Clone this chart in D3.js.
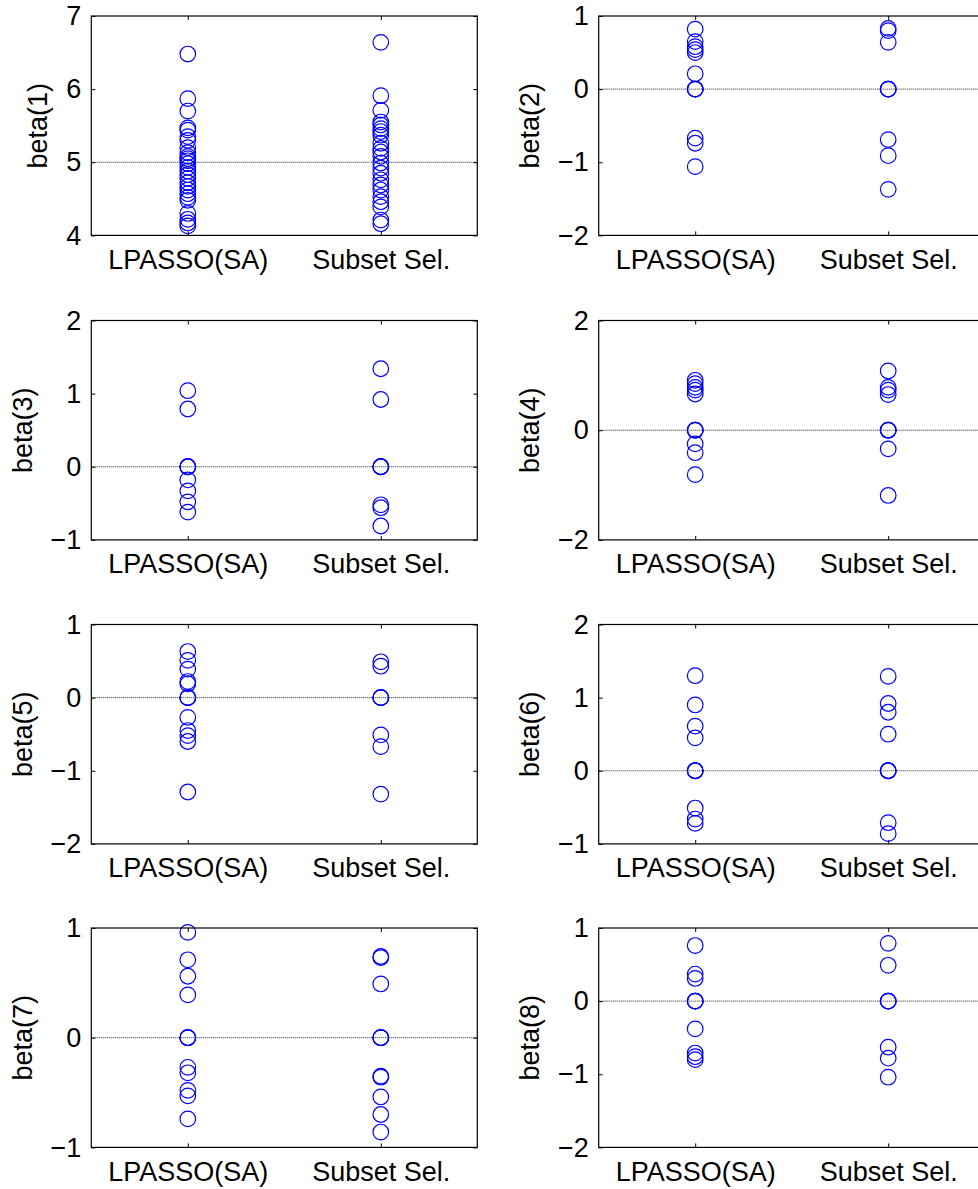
<!DOCTYPE html>
<html>
<head>
<meta charset="utf-8">
<script src="https://cdn.jsdelivr.net/npm/d3@7"></script>
<style>
  body { margin: 0; background: #fff; }
  text { font-family: "Liberation Sans", Arial, sans-serif; }
</style>
</head>
<body>
<script>
    const width = 978;
    const height = 1189;

    const categories = ["LPASSO(SA)", "Subset Sel."];
    const labels = ["beta(1)", "beta(2)", "beta(3)", "beta(4)", "beta(5)", "beta(6)", "beta(7)", "beta(8)"];
    const trueValues = [5, 0, 0, 0, 0, 0, 0, 0];
    const yDomains = [[4, 7], [-2, 1], [-1, 2], [-2, 2], [-2, 1], [-1, 2], [-1, 1], [-2, 1]];
    const yTicks = [[4, 5, 6, 7], [-2, -1, 0, 1], [-1, 0, 1, 2], [-2, 0, 2], [-2, -1, 0, 1], [-1, 0, 1, 2], [-1, 0, 1], [-2, -1, 0, 1]];

    // estimates for each run, per method
    const lpasso = [
        [6.48, 5.87, 5.70, 5.47, 5.44, 5.35, 5.30, 5.20, 5.13, 5.08, 5.05, 5.02, 4.98, 4.93, 4.88, 4.83, 4.78, 4.72, 4.67, 4.62, 4.57, 4.52, 4.48, 4.30, 4.22, 4.17, 4.13],
        [0.82, 0.65, 0.58, 0.54, 0.50, 0.21, 0, 0, 0, -0.67, -0.74, -1.06],
        [1.04, 0.79, 0, 0, 0, -0.18, -0.33, -0.48, -0.62],
        [0.91, 0.85, 0.78, 0.73, 0.66, 0, 0, 0, -0.25, -0.41, -0.81],
        [0.63, 0.51, 0.39, 0.22, 0.19, 0, 0, 0, -0.27, -0.45, -0.52, -0.60, -1.29],
        [1.30, 0.90, 0.61, 0.45, 0, 0, 0, -0.51, -0.66, -0.72],
        [0.96, 0.71, 0.56, 0.39, 0, 0, 0, -0.27, -0.32, -0.48, -0.53, -0.74],
        [0.76, 0.37, 0.31, 0, 0, 0, -0.38, -0.71, -0.76, -0.80]
    ];
    const subset = [
        [6.64, 5.91, 5.71, 5.55, 5.51, 5.46, 5.42, 5.37, 5.26, 5.19, 5.14, 5.08, 4.99, 4.92, 4.85, 4.76, 4.69, 4.62, 4.53, 4.46, 4.39, 4.21, 4.16],
        [0.83, 0.80, 0.64, 0, 0, 0, -0.69, -0.91, -1.37],
        [1.34, 0.92, 0, 0, 0, -0.52, -0.56, -0.81],
        [1.08, 0.78, 0.73, 0.65, 0, 0, 0, -0.34, -1.19],
        [0.49, 0.43, 0, 0, 0, -0.51, -0.67, -1.32],
        [1.29, 0.92, 0.80, 0.50, 0, 0, 0, -0.71, -0.86],
        [0.74, 0.73, 0.49, 0, 0, 0, -0.35, -0.36, -0.54, -0.70, -0.86],
        [0.79, 0.49, 0, 0, 0, -0.63, -0.78, -1.04]
    ];

    const colLeft = [91.3, 598.7];
    const rowTop = [16, 320.5, 624.5, 928];
    const w = 386;
    const h = 219.4;
    const fontSize = 27;

    const svg = d3.select("body")
        .append("svg")
        .attr("width", width)
        .attr("height", height);

    svg.append("rect").attr("width", width).attr("height", height).attr("fill", "#fff");

    const x = d3.scalePoint().domain(categories).range([0, w]).padding(0.5);

    labels.forEach((label, i) => {
        const g = svg.append("g")
            .attr("transform", `translate(${colLeft[i % 2]},${rowTop[Math.floor(i / 2)]})`);

        const y = d3.scaleLinear().domain(yDomains[i]).range([h, 0]);

        // dotted reference line at the true value
        g.append("line")
            .attr("x1", 0).attr("x2", w)
            .attr("y1", y(trueValues[i])).attr("y2", y(trueValues[i]))
            .attr("stroke", "#222")
            .attr("stroke-width", 1)
            .attr("stroke-dasharray", "1,1");

        const pts = [
            ...lpasso[i].map(v => ({ c: categories[0], v })),
            ...subset[i].map(v => ({ c: categories[1], v }))
        ];
        g.append("g")
            .selectAll("circle")
            .data(pts)
            .join("circle")
            .attr("cx", d => x(d.c))
            .attr("cy", d => y(d.v))
            .attr("r", 7.8)
            .attr("fill", "none")
            .attr("stroke", "#0000ff")
            .attr("stroke-width", 1.2);

        const fmt = d => d < 0 ? "\u2212" + Math.abs(d) : String(d);

        const yAxis = g.append("g")
            .call(d3.axisLeft(y).tickValues(yTicks[i]).tickFormat(fmt).tickSizeInner(-4).tickSizeOuter(0).tickPadding(10));
        g.append("g")
            .attr("transform", `translate(${w},0)`)
            .call(d3.axisRight(y).tickValues(yTicks[i]).tickFormat("").tickSizeInner(-4).tickSizeOuter(0));
        g.append("g")
            .attr("transform", `translate(0,${h})`)
            .call(d3.axisBottom(x).tickSizeInner(-4).tickSizeOuter(0).tickPadding(14));
        g.append("g")
            .call(d3.axisTop(x).tickFormat("").tickSizeInner(-4).tickSizeOuter(0));

        g.selectAll(".domain").remove();
        g.selectAll(".tick line").attr("stroke", "#000");
        g.selectAll(".tick text")
            .attr("font-family", "Liberation Sans, Arial, sans-serif")
            .attr("font-size", fontSize)
            .attr("fill", "#000");

        g.append("rect")
            .attr("width", w).attr("height", h)
            .attr("fill", "none")
            .attr("stroke", "#000")
            .attr("stroke-width", 1.2);

        let maxW = 0;
        yAxis.selectAll(".tick text").each(function () {
            maxW = Math.max(maxW, this.getComputedTextLength());
        });

        g.append("text")
            .attr("transform", `translate(${-(10 + maxW + 19)},${h / 2}) rotate(-90)`)
            .attr("text-anchor", "middle")
            .attr("font-size", fontSize)
            .attr("fill", "#000")
            .text(label);
    });
</script>
</body>
</html>
